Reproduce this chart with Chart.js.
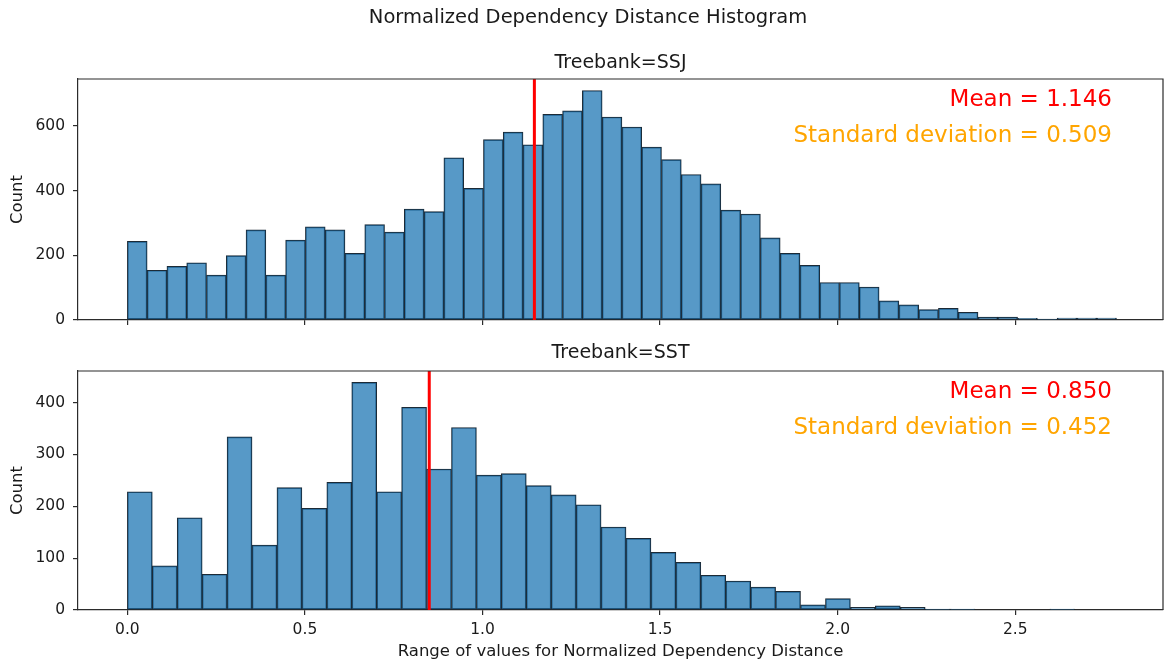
<!DOCTYPE html>
<html><head><meta charset="utf-8">
<script src="https://cdn.jsdelivr.net/npm/chart.js@4.4.1/dist/chart.umd.min.js"></script>
<style>
html,body{margin:0;padding:0;background:#fff;}
#wrap{position:relative;width:1164px;height:666px;overflow:hidden;background:#fff;}
canvas{position:absolute;left:0;}
#c1{top:0}
#c2{top:340px}
</style></head><body>
<div id="wrap"><canvas id="c1" width="1164" height="340"></canvas><canvas id="c2" width="1164" height="326"></canvas></div>
<script>
// ---- data ----
const suptitle = 'Normalized Dependency Distance Histogram';
const xAxisLabel = 'Range of values for Normalized Dependency Distance';
const yAxisLabel = 'Count';
const panelTitles = ['Treebank=SSJ', 'Treebank=SST'];
const binStart = 0;
const ssjBinWidth = 0.0557;
const sstBinWidth = 0.0702;
const ssjCounts = [243,154,166,177,139,199,279,139,247,288,
                   279,206,295,272,343,335,502,407,558,581,
                   542,636,647,710,628,597,535,496,450,421,
                   340,328,254,206,169,116,116,102,59,47,
                   32,36,24,9,9,5,3,6,6,6];
const sstCounts = [228,85,178,69,334,125,236,196,246,439,
                   228,391,272,352,260,263,240,222,203,160,
                   138,111,92,67,56,44,36,10,22,5,
                   8,5,2,2,0,0,0,2];
const means = [1.146, 0.850];
const stds = [0.509, 0.452];
const meanLabels = ['Mean = 1.146', 'Mean = 0.850'];
const stdLabels = ['Standard deviation = 0.509', 'Standard deviation = 0.452'];
const xTicks = [0, 0.5, 1, 1.5, 2, 2.5];
const xTickLabels = ['0.0', '0.5', '1.0', '1.5', '2.0', '2.5'];
const ssjYTicks = [0, 200, 400, 600];
const sstYTicks = [0, 100, 200, 300, 400];
const xRange = [-0.139, 2.916];

// ---- styling ----
const FONT = 'DejaVu Sans';
const TEXT = '#1a1a1a';
const SPINE = '#2b2b2b';
Chart.defaults.font.family = FONT;

const panelDecor = {
  id: 'panelDecor',
  afterDraw(chart, args, o) {
    const ctx = chart.ctx, a = chart.chartArea;
    ctx.save();
    ctx.strokeStyle = SPINE; ctx.lineWidth = 1.2;
    ctx.beginPath();
    ctx.moveTo(a.left, a.top); ctx.lineTo(a.right, a.top); ctx.lineTo(a.right, a.bottom);
    ctx.stroke();
    ctx.textBaseline = 'middle';
    ctx.fillStyle = TEXT; ctx.textAlign = 'center';
    ctx.font = '19px "' + FONT + '"';
    ctx.fillText(o.title, (a.left + a.right) / 2, a.top - o.titleGap);
    if (o.suptitle) {
      ctx.font = '19.5px "' + FONT + '"';
      ctx.fillText(o.suptitle, 588, 18);
    }
    ctx.textAlign = 'right';
    ctx.font = '23px "' + FONT + '"';
    ctx.fillStyle = 'red';
    ctx.fillText(o.meanText, a.right - 51, a.top + 21);
    ctx.fillStyle = 'orange';
    ctx.fillText(o.stdText, a.right - 51, a.top + 57.5);
    ctx.restore();
  }
};

function makePanel(canvas, counts, binWidth, mean, yTicks, idx, cfg) {
  const pts = counts.map((c, i) => ({ x: binStart + (i + 0.5) * binWidth, y: c }));
  const yMax = Math.max(...counts) * 1.05;
  const axisGrid = { display: true, drawOnChartArea: false, drawTicks: true, tickLength: 5, color: SPINE, lineWidth: 1.2, offset: false };
  const axisBorder = { display: true, color: SPINE, width: 1.2 };
  return new Chart(canvas, {
    type: 'bar',
    data: {
      datasets: [
        { type: 'line', data: [{ x: mean, y: 0 }, { x: mean, y: yMax }], borderColor: 'red', borderWidth: 3, pointRadius: 0, order: 0 },
        { type: 'bar', data: pts, backgroundColor: 'rgba(31,119,180,0.75)', borderColor: '#1c2a36', borderWidth: 1,
          borderSkipped: false, barPercentage: 1, categoryPercentage: 1, order: 1 }
      ]
    },
    options: {
      responsive: false, animation: false, events: [],
      layout: { padding: { top: cfg.padTop, right: 1, left: 0, bottom: 0 } },
      plugins: {
        legend: { display: false }, tooltip: { enabled: false }, title: { display: false },
        panelDecor: { title: panelTitles[idx], titleGap: cfg.titleGap, meanText: meanLabels[idx], stdText: stdLabels[idx], suptitle: cfg.suptitle }
      },
      scales: {
        x: {
          type: 'linear', min: xRange[0], max: xRange[1], offset: false,
          afterBuildTicks: s => { s.ticks = xTicks.map(v => ({ value: v })); },
          afterFit: s => { s.height = cfg.xHeight; },
          grid: axisGrid, border: axisBorder,
          ticks: { color: cfg.showX ? TEXT : 'rgba(0,0,0,0)', font: { size: 15.5 }, padding: 6, maxRotation: 0, autoSkip: false,
                   callback: v => xTickLabels[xTicks.indexOf(v)] },
          title: { display: cfg.showX, text: xAxisLabel, color: TEXT, font: { size: 16.5 }, padding: { top: 0, bottom: 4 } }
        },
        y: {
          min: 0, max: yMax,
          afterBuildTicks: s => { s.ticks = yTicks.map(v => ({ value: v })); },
          afterFit: s => { s.width = 78; },
          grid: axisGrid, border: axisBorder,
          ticks: { color: TEXT, font: { size: 15.5 }, padding: 8, callback: v => String(v) },
          title: { display: true, text: yAxisLabel, color: TEXT, font: { size: 16.5 }, padding: { top: 8, bottom: 0 } }
        }
      }
    },
    plugins: [panelDecor]
  });
}

makePanel(document.getElementById('c1'), ssjCounts, ssjBinWidth, means[0], ssjYTicks, 0,
  { padTop: 79, xHeight: 20, showX: false, titleGap: 16, suptitle: suptitle });
makePanel(document.getElementById('c2'), sstCounts, sstBinWidth, means[1], sstYTicks, 1,
  { padTop: 31, xHeight: 56, showX: true, titleGap: 18, suptitle: null });
</script>
</body></html>
